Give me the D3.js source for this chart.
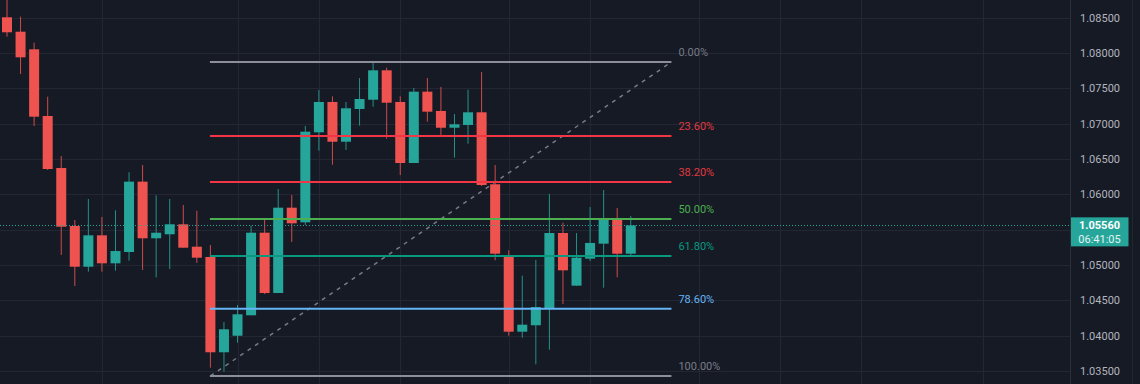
<!DOCTYPE html>
<html>
<head>
<meta charset="utf-8">
<script src="https://cdn.jsdelivr.net/npm/d3@7"></script>
<style>
  html, body { margin: 0; padding: 0; background: #161a25; overflow: hidden; }
  svg { display: block; font-family: Roboto, "Noto Sans", sans-serif; }
</style>
</head>
<body>
<svg id="chart" width="1140" height="384"></svg>
<script>
// candles, oldest first
const opens  = [1.08503, 1.08299, 1.08050, 1.07107, 1.06371, 1.05551, 1.04975, 1.05419, 1.05023, 1.05183,
                1.06178, 1.05377, 1.05434, 1.05575, 1.05258, 1.05113, 1.03765, 1.03999, 1.04288, 1.05456,
                1.04603, 1.05810, 1.05603, 1.06876, 1.07305, 1.06743, 1.07206, 1.07337, 1.07753, 1.07305,
                1.06442, 1.07451, 1.07178, 1.06941, 1.06980, 1.07159, 1.06141, 1.05137, 1.04056, 1.04147,
                1.04391, 1.05452, 1.04707, 1.05089, 1.05301, 1.05640, 1.05159];
const highs  = [1.08748, 1.08511, 1.08144, 1.07380, 1.06541, 1.05636, 1.05933, 1.05678, 1.05773, 1.06311,
                1.06414, 1.05985, 1.05933, 1.05848, 1.05767, 1.05282, 1.04193, 1.04434, 1.05555, 1.05636,
                1.06074, 1.05989, 1.06965, 1.07475, 1.07385, 1.07305, 1.07644, 1.07861, 1.07790, 1.07385,
                1.07503, 1.07644, 1.07517, 1.07135, 1.07479, 1.07729, 1.06414, 1.05207, 1.04848, 1.05070,
                1.06004, 1.05598, 1.05452, 1.05820, 1.06060, 1.05806, 1.05692];
const lows   = [1.08228, 1.07701, 1.06965, 1.06343, 1.05141, 1.04702, 1.04905, 1.04905, 1.04919, 1.05060,
                1.04929, 1.04825, 1.04943, 1.05244, 1.05028, 1.03547, 1.03490, 1.03900, 1.04288, 1.04589,
                1.04603, 1.05325, 1.05565, 1.06616, 1.06418, 1.06626, 1.06970, 1.07238, 1.06786, 1.06272,
                1.06442, 1.07026, 1.06828, 1.06517, 1.06715, 1.06117, 1.05066, 1.03999, 1.03971, 1.03595,
                1.03801, 1.04448, 1.04707, 1.05056, 1.04678, 1.04825, 1.05122];
const closes = [1.08291, 1.07937, 1.07097, 1.06357, 1.05541, 1.04975, 1.05419, 1.05023, 1.05197, 1.06178,
                1.05377, 1.05456, 1.05575, 1.05244, 1.05103, 1.03765, 1.04090, 1.04302, 1.05456, 1.04603,
                1.05810, 1.05589, 1.06885, 1.07305, 1.06743, 1.07216, 1.07347, 1.07753, 1.07295, 1.06442,
                1.07451, 1.07168, 1.06941, 1.06989, 1.07159, 1.06131, 1.05159, 1.04056, 1.04155, 1.04405,
                1.05452, 1.04924, 1.05103, 1.05311, 1.05640, 1.05159, 1.05560];

const priceTicks = [1.035, 1.040, 1.045, 1.050, 1.055, 1.060, 1.065, 1.070, 1.075, 1.080, 1.085];
// bar indexes where the time grid falls
const timeGrid = [7, 17, 23, 29, 37, 43, 51, 57, 63, 72];

// fibonacci retracement drawn from bar 15 (low) to bar 49 (high)
const fibRatios = [0, 0.236, 0.382, 0.5, 0.618, 0.786, 1];
const fibLabels = ["0.00%", "23.60%", "38.20%", "50.00%", "61.80%", "78.60%", "100.00%"];
const fibHigh = 1.0787, fibLow = 1.0343;
const fibFrom = 15, fibTo = 49;

const lastPrice = 1.05560;
const countdown = "06:41:05";

const fibColors = ["#8c8f99", "#f23645", "#f23645", "#4caf50", "#089981", "#64b5f6", "#8c8f99"];
const fibTextColors = ["#787b86", "#e0393f", "#e0393f", "#4caf50", "#089981", "#64b5f6", "#787b86"];
const up = "#26a69a", down = "#ef5350";

const width = 1140, height = 384, plotRight = 1070;
const svg = d3.select("#chart");

const x = d3.scaleLinear().domain([0, 46]).range([7, 630.76]);
const y = d3.scaleLinear().domain([1.035, 1.085]).range([371, 17.5]);

svg.append("rect").attr("width", width).attr("height", height).attr("fill", "#161a25");

// grid
const grid = svg.append("g").attr("stroke", "#232733").attr("stroke-width", 1);
grid.selectAll(".h").data(priceTicks).enter().append("line")
    .attr("x1", 0).attr("x2", plotRight)
    .attr("y1", d => Math.round(y(d)) + 0.5).attr("y2", d => Math.round(y(d)) + 0.5);
grid.selectAll(".v").data(timeGrid).enter().append("line")
    .attr("y1", 0).attr("y2", height)
    .attr("x1", d => Math.round(x(d)) + 0.5).attr("x2", d => Math.round(x(d)) + 0.5);

// candles
const bars = d3.range(opens.length).map(i => ({ i, o: opens[i], h: highs[i], l: lows[i], c: closes[i] }));
const candles = svg.append("g");
candles.selectAll("line").data(bars).enter().append("line")
    .attr("x1", d => x(d.i)).attr("x2", d => x(d.i))
    .attr("y1", d => y(d.h)).attr("y2", d => y(d.l))
    .attr("stroke", d => d.c >= d.o ? up : down)
    .attr("stroke-opacity", 0.85)
    .attr("stroke-width", 1);
candles.selectAll("rect").data(bars).enter().append("rect")
    .attr("x", d => x(d.i) - 5)
    .attr("width", 10)
    .attr("y", d => y(Math.max(d.o, d.c)))
    .attr("height", d => Math.max(1, Math.abs(y(d.o) - y(d.c))))
    .attr("fill", d => d.c >= d.o ? up : down);

// fib retracement
const fib = svg.append("g");
const fibPrice = r => fibHigh - r * (fibHigh - fibLow);
fib.append("line")
    .attr("x1", x(fibFrom)).attr("y1", y(fibLow))
    .attr("x2", x(fibTo)).attr("y2", y(fibHigh))
    .attr("stroke", "#787b86").attr("stroke-width", 1.5)
    .attr("stroke-dasharray", "4,5");
fib.selectAll(".lvl").data(fibRatios).enter().append("line")
    .attr("x1", x(fibFrom) - 0.5).attr("x2", x(fibTo))
    .attr("y1", d => y(fibPrice(d))).attr("y2", d => y(fibPrice(d)))
    .attr("stroke", (d, i) => fibColors[i])
    .attr("stroke-width", 2);
fib.selectAll("text").data(fibRatios).enter().append("text")
    .attr("x", x(fibTo) + 7)
    .attr("y", d => y(fibPrice(d)) - 6)
    .attr("fill", (d, i) => fibTextColors[i])
    .style("font-size", "11px")
    .text((d, i) => fibLabels[i]);

// last price line
svg.append("line")
    .attr("x1", 0).attr("x2", plotRight)
    .attr("y1", Math.round(y(lastPrice)) + 0.5).attr("y2", Math.round(y(lastPrice)) + 0.5)
    .attr("stroke", up).attr("stroke-width", 1)
    .attr("stroke-dasharray", "1,2");

// price axis
svg.append("line")
    .attr("x1", plotRight + 0.5).attr("x2", plotRight + 0.5)
    .attr("y1", 0).attr("y2", height)
    .attr("stroke", "#2a2e39");
svg.append("line")
    .attr("x1", 1132.5).attr("x2", 1132.5)
    .attr("y1", 0).attr("y2", height)
    .attr("stroke", "#22262f");

const fmt = d3.format(".5f");
const ly = y(lastPrice);
// labels that would sit under the last price tag are hidden, as on the platform
svg.append("g").selectAll("text")
    .data(priceTicks.filter(d => y(d) < ly - 16 || y(d) > ly + 28))
    .enter().append("text")
    .attr("x", 1080)
    .attr("y", d => y(d) + 4)
    .attr("fill", "#b2b5be")
    .style("font-size", "11px")
    .text(d => fmt(d));

// last price tag with countdown
svg.append("rect")
    .attr("x", 1071).attr("y", ly - 8)
    .attr("width", 57.5).attr("height", 29)
    .attr("fill", up);
svg.append("text")
    .attr("x", 1099.5).attr("y", ly + 4)
    .attr("text-anchor", "middle")
    .attr("fill", "#ffffff")
    .style("font-size", "11px").style("font-weight", "bold")
    .text(fmt(lastPrice));
svg.append("text")
    .attr("x", 1099.5).attr("y", ly + 17.5)
    .attr("text-anchor", "middle")
    .attr("fill", "#e3f4f2")
    .style("font-size", "11px")
    .text(countdown);
</script>
</body>
</html>
